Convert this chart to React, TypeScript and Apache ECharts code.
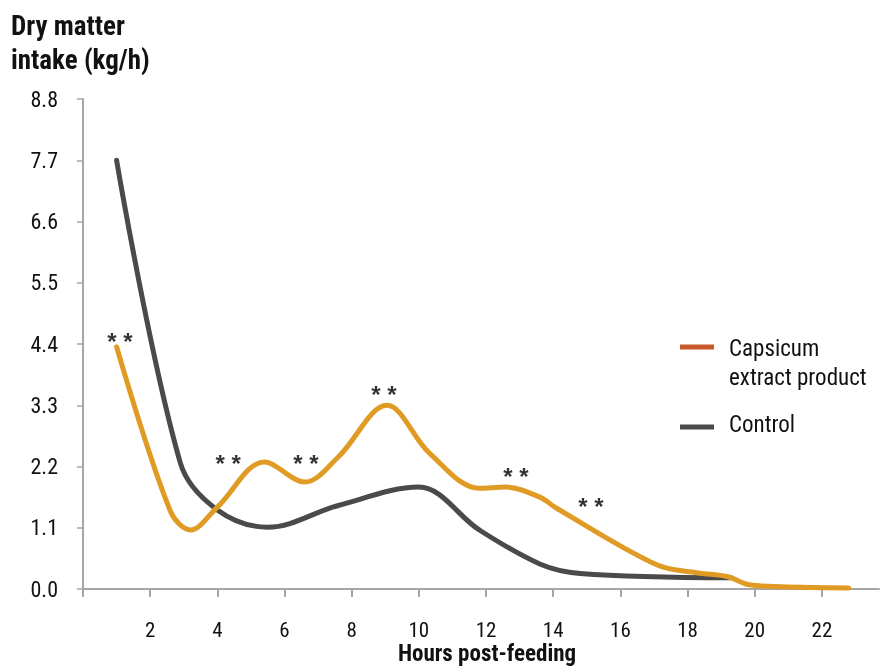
import React, { useEffect, useRef } from "react";
import * as echarts from "echarts";

const capsicumHours = [1.0, 2.6, 3.2, 4.0, 5.4, 6.6, 7.6, 9.05, 10.3, 11.8, 12.6, 13.6, 14.1, 17.1, 18.3, 19.2, 19.8, 20.8, 22.8];
const capsicumIntake = [4.35, 1.4, 1.06, 1.47, 2.28, 1.92, 2.37, 3.3, 2.45, 1.81, 1.83, 1.65, 1.45, 0.43, 0.29, 0.22, 0.08, 0.04, 0.02];
const controlHours = [1.0, 2.9, 4.0, 5.5, 7.6, 10.0, 11.8, 13.6, 14.8, 19.3];
const controlIntake = [7.7, 2.26, 1.42, 1.11, 1.5, 1.83, 1.06, 0.45, 0.28, 0.2];
const starHours = [1.1, 4.32, 6.64, 8.96, 12.89, 15.12];
const starIntake = [4.51, 2.33, 2.32, 3.57, 2.1, 1.56];
const yTicks = { min: 0, max: 8.8, interval: 1.1 };
const xTicks = { min: 0, max: 23.7, interval: 2 };

const FONT = "'Liberation Sans Narrow', 'Roboto Condensed', 'Arial Narrow', Roboto, sans-serif";
const ORANGE = "#e09b25";
const GREY = "#4a4a4a";
const AXIS = "#a6a6a6";

export default function App() {
  const ref = useRef<HTMLDivElement>(null);
  useEffect(() => {
    if (!ref.current) return;
    const chart = echarts.init(ref.current, undefined, { renderer: "svg" });
    chart.setOption({
      animation: false,
      textStyle: { fontFamily: FONT },
      grid: { left: 83, top: 99, right: 2, bottom: 77, containLabel: false, outerBoundsMode: "none" },
      xAxis: {
        type: "value",
        min: xTicks.min,
        max: xTicks.max,
        interval: xTicks.interval,
        axisLine: { show: true, onZero: false, lineStyle: { color: AXIS, width: 2 } },
        axisTick: { show: true, length: 8, lineStyle: { color: AXIS, width: 2 } },
        splitLine: { show: false },
        axisLabel: {
          margin: 30,
          fontSize: 21,
          color: "#111",
          fontFamily: FONT,
          showMaxLabel: false,
          formatter: (v: number) => (v === 0 || v % 2 !== 0 ? "" : String(v)),
        },
      },
      yAxis: {
        type: "value",
        min: yTicks.min,
        max: yTicks.max,
        interval: yTicks.interval,
        axisLine: { show: true, lineStyle: { color: AXIS, width: 2 } },
        axisTick: { show: true, length: 6, lineStyle: { color: AXIS, width: 1.5 } },
        splitLine: { show: false },
        axisLabel: {
          margin: 25,
          fontSize: 22,
          color: "#111",
          fontFamily: FONT,
          formatter: (v: number) => v.toFixed(1),
        },
      },
      graphic: [
        {
          type: "text",
          left: 11,
          top: 9,
          style: {
            text: "Dry matter\nintake (kg/h)",
            font: `bold 27px ${FONT}`,
            fill: "#111",
            lineHeight: 34,
            align: "left",
          },
        },
        {
          type: "text",
          x: 487,
          y: 653,
          style: {
            text: "Hours post-feeding",
            font: `bold 23px ${FONT}`,
            fill: "#111",
            align: "center",
            verticalAlign: "middle",
          },
        },
        { type: "line", shape: { x1: 680, y1: 347, x2: 714, y2: 347 }, style: { stroke: "#c9592c", lineWidth: 5 } },
        {
          type: "text",
          left: 729,
          top: 334,
          style: { text: "Capsicum\nextract product", font: `23px ${FONT}`, fill: "#111", lineHeight: 29 },
        },
        { type: "line", shape: { x1: 680, y1: 427, x2: 714, y2: 427 }, style: { stroke: GREY, lineWidth: 5 } },
        {
          type: "text",
          left: 729,
          top: 413,
          style: { text: "Control", font: `23px ${FONT}`, fill: "#111" },
        },
      ],
      series: [
        {
          name: "Control",
          type: "line",
          data: controlHours.map((h, i) => [h, controlIntake[i]]),
          smooth: 0.35,
          showSymbol: false,
          symbol: "none",
          lineStyle: { color: GREY, width: 5, cap: "round", join: "round" },
          z: 2,
        },
        {
          name: "Capsicum extract product",
          type: "line",
          data: capsicumHours.map((h, i) => [h, capsicumIntake[i]]),
          smooth: 0.35,
          showSymbol: false,
          symbol: "none",
          lineStyle: { color: ORANGE, width: 5, cap: "round", join: "round" },
          z: 3,
        },
        {
          name: "stars",
          type: "scatter",
          data: starHours.map((h, i) => [h, starIntake[i]]),
          symbolSize: 1,
          itemStyle: { color: "transparent" },
          label: {
            show: true,
            position: "inside",
            formatter: "* *",
            fontSize: 24,
            fontWeight: "bold",
            fontFamily: "'Liberation Sans', Arial, sans-serif",
            color: "#000",
            offset: [0, 4],
          },
          z: 4,
        },
      ],
    });
    return () => chart.dispose();
  }, []);
  return <div ref={ref} style={{ position: "fixed", left: 0, top: 0, width: 881, height: 666 }} />;
}
